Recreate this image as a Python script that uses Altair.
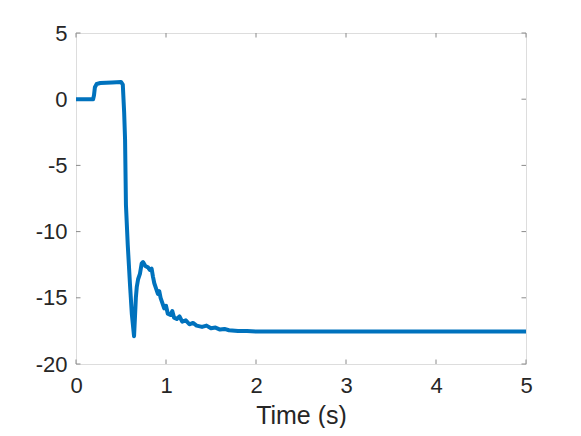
import altair as alt
import pandas as pd

# Signal samples
time_s = [0.0, 0.19, 0.20, 0.21, 0.23, 0.27, 0.40, 0.50, 0.52, 0.535, 0.545, 0.555, 0.575,
          0.60, 0.62, 0.645, 0.655, 0.665, 0.675, 0.69, 0.71, 0.73, 0.745, 0.77, 0.80,
          0.82, 0.84, 0.855, 0.87, 0.89, 0.91, 0.925, 0.94, 0.96, 0.98, 1.00, 1.02,
          1.05, 1.07, 1.09, 1.12, 1.15, 1.18, 1.22, 1.26, 1.30, 1.34, 1.40, 1.45,
          1.50, 1.55, 1.60, 1.65, 1.70, 1.80, 1.90, 2.00, 3.00, 4.00, 5.00]
value = [0.0, 0.0, 0.3, 0.9, 1.15, 1.22, 1.27, 1.3, 1.1, -1.0, -3.0, -8.0, -11.0,
         -14.0, -16.2, -17.9, -16.5, -15.0, -14.2, -13.6, -13.2, -12.4, -12.3, -12.6, -12.7,
         -12.9, -12.8, -13.4, -13.9, -14.3, -14.7, -14.5, -15.0, -15.4, -15.8, -15.6, -16.2,
         -16.3, -16.0, -16.5, -16.6, -16.4, -16.8, -16.7, -17.0, -16.9, -17.1, -17.2, -17.1,
         -17.3, -17.25, -17.4, -17.35, -17.45, -17.5, -17.5, -17.55, -17.55, -17.55, -17.55]

x_ticks = [0, 1, 2, 3, 4, 5]
y_ticks = [-20, -15, -10, -5, 0, 5]

df = pd.DataFrame({"t": time_s, "v": value})
xt = pd.DataFrame({"xt": x_ticks})
yt = pd.DataFrame({"yt": y_ticks})

W, H = 450, 331
TL = 4.5
GRAY = "#8a8a8a"
TXT = "#262626"
FONT = "Liberation Sans"

xscale = alt.Scale(domain=[0, 5], nice=False, zero=False)
yscale = alt.Scale(domain=[-20, 5], nice=False, zero=False)

line = alt.Chart(df).mark_line(color="#0072BD", strokeWidth=4, strokeJoin="round").encode(
    x=alt.X("t:Q", scale=xscale, title="Time (s)",
            axis=alt.Axis(values=x_ticks, domain=False, ticks=False, grid=False,
                          labelExpr="toString(datum.value)", labelFlush=False,
                          labelFontSize=22, labelPadding=11, labelColor=TXT,
                          titleFontSize=25, titleFontWeight="normal", titleColor=TXT,
                          titlePadding=7, labelFont=FONT, titleFont=FONT)),
    y=alt.Y("v:Q", scale=yscale, title=None,
            axis=alt.Axis(values=y_ticks, domain=False, ticks=False, grid=False,
                          labelExpr="toString(datum.value)", labelFlush=False,
                          labelFontSize=22, labelPadding=9, labelColor=TXT,
                          labelFont=FONT)),
)

bot = alt.Chart(xt).mark_rule(color=GRAY, strokeWidth=1).encode(
    x=alt.X("xt:Q", scale=xscale), y=alt.value(H), y2=alt.value(H - TL))
top = alt.Chart(xt).mark_rule(color=GRAY, strokeWidth=1).encode(
    x=alt.X("xt:Q", scale=xscale), y=alt.value(0), y2=alt.value(TL))
left = alt.Chart(yt).mark_rule(color=GRAY, strokeWidth=1).encode(
    y=alt.Y("yt:Q", scale=yscale), x=alt.value(0), x2=alt.value(TL))
right = alt.Chart(yt).mark_rule(color=GRAY, strokeWidth=1).encode(
    y=alt.Y("yt:Q", scale=yscale), x=alt.value(W), x2=alt.value(W - TL))

chart = alt.layer(bot, top, left, right, line).properties(
    width=W, height=H,
    autosize=alt.AutoSizeParams(type="none"),
    padding={"left": 68, "top": 25, "right": 47, "bottom": 64},
).configure_view(stroke=GRAY, strokeWidth=1).configure(background="white")

chart.save("out.html", embed_options={"renderer": "svg", "actions": False})
